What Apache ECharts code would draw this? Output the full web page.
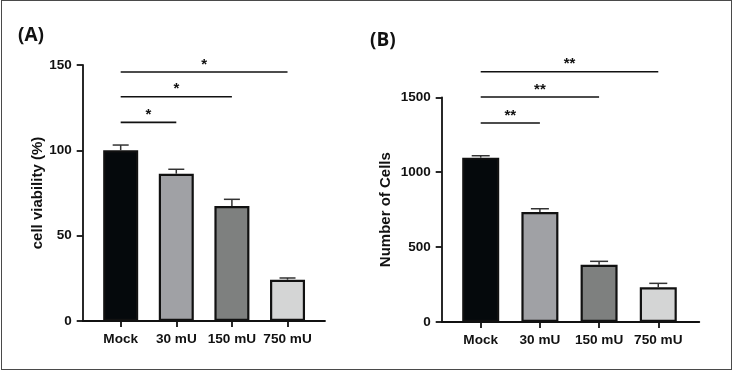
<!DOCTYPE html>
<html><head><meta charset="utf-8">
<script src="https://cdn.jsdelivr.net/npm/echarts@6/dist/echarts.min.js"></script>
<style>
html,body{margin:0;padding:0;background:#fff;}
#frame{position:absolute;left:1px;top:0;width:731px;height:370px;box-sizing:border-box;border:1px solid #4a4a4a;}
#chart{position:absolute;left:0;top:0;width:733px;height:374px;}
</style></head><body>
<div id="frame"></div><div id="chart"></div>
<script>
// ---- data ----
const categories = ['Mock', '30 mU', '150 mU', '750 mU'];
const viability = [100, 86.3, 67.4, 24.2];
const viabilitySEM = [3.1, 2.6, 3.9, 1.0];
const cellCount = [1097, 734, 382, 232];
const cellCountSEM = [13, 22, 23, 26];
const sigPairs = [[0, 1], [0, 2], [0, 3]];
const sigHeightsA = [116.4, 131.4, 145.9];
const sigLabelsA = ['*', '*', '*'];
const sigHeightsB = [1328, 1502, 1671];
const sigLabelsB = ['**', '**', '**'];
const yTicksA = [0, 50, 100, 150];
const yTicksB = [0, 500, 1000, 1500];
const barColors = ['#05090c', '#a0a1a5', '#7e807f', '#d4d5d5'];

const FONT = 'Liberation Sans';
const INK = '#111111';

function xAxisCfg(grid, min, max) {
  const idx = categories.map((c, i) => i);
  return {
    type: 'value', gridIndex: grid, min: min, max: max,
    splitLine: {show: false},
    axisLine: {show: true, onZero: false, lineStyle: {color: INK, width: 1.8}},
    axisTick: {show: true, length: 6, customValues: idx, lineStyle: {color: INK, width: 1.8}},
    axisLabel: {customValues: idx, margin: 11, color: INK, fontFamily: FONT, fontWeight: 'bold', fontSize: 13.6,
      formatter: v => categories[Math.round(v)] || ''}
  };
}
function yAxisCfg(grid, ticks, name, nameGap) {
  return {
    type: 'value', gridIndex: grid, min: ticks[0], max: ticks[ticks.length - 1], interval: ticks[1] - ticks[0],
    splitLine: {show: false},
    axisLine: {show: true, onZero: false, lineStyle: {color: INK, width: 1.8}},
    axisTick: {show: true, length: 6, lineStyle: {color: INK, width: 1.8}},
    axisLabel: {margin: 11, color: INK, fontFamily: FONT, fontWeight: 'bold', fontSize: 13.5,
      formatter: v => String(v)},
    name: name, nameLocation: 'middle', nameGap: nameGap,
    nameTextStyle: {color: INK, fontFamily: FONT, fontWeight: 'bold', fontSize: 15}
  };
}
function panelSeries(grid, values, sem, heights, labels, barWidth, capHalf) {
  return [
    {
      type: 'bar', xAxisIndex: grid, yAxisIndex: grid, barWidth: barWidth,
      itemStyle: {borderColor: INK, borderWidth: 2.2},
      data: values.map((v, i) => ({value: [i, v], itemStyle: {color: barColors[i]}})),
      z: 2
    },
    {
      type: 'custom', xAxisIndex: grid, yAxisIndex: grid, z: 3,
      encode: {x: 0, y: [1, 2]},
      data: values.map((v, i) => [i, v, v + sem[i]]),
      renderItem: function (params, api) {
        const p0 = api.coord([api.value(0), api.value(1)]);
        const p1 = api.coord([api.value(0), api.value(2)]);
        return {type: 'group', children: [
          {type: 'line', shape: {x1: p0[0], y1: p0[1], x2: p1[0], y2: p1[1]}, style: {stroke: '#333', lineWidth: 1.5}},
          {type: 'line', shape: {x1: p1[0] - capHalf, y1: p1[1], x2: p1[0] + capHalf, y2: p1[1]}, style: {stroke: '#333', lineWidth: 1.5}}
        ]};
      }
    },
    {
      type: 'custom', xAxisIndex: grid, yAxisIndex: grid, z: 4, clip: false,
      encode: {x: [0, 2], y: 1},
      data: sigPairs.map((p, i) => [p[0], heights[i], p[1], i]),
      renderItem: function (params, api) {
        const a = api.coord([api.value(0), api.value(1)]);
        const b = api.coord([api.value(2), api.value(1)]);
        return {type: 'group', children: [
          {type: 'line', shape: {x1: a[0], y1: a[1], x2: b[0], y2: b[1]}, style: {stroke: INK, lineWidth: 1.6}},
          {type: 'text', x: (a[0] + b[0]) / 2, y: a[1] - 7.5,
            style: {text: labels[api.value(3)], align: 'center', verticalAlign: 'middle',
              font: 'bold 15px "Liberation Sans"', fill: INK}}
        ]};
      }
    }
  ];
}

const chart = echarts.init(document.getElementById('chart'), null, {renderer: 'canvas'});
chart.setOption({
  animation: false,
  backgroundColor: 'transparent',
  title: [
    {text: '(A)', left: 18, top: 26, padding: 0, textStyle: {fontFamily: 'Open Sans', fontWeight: 'bold', fontSize: 19, color: INK}},
    {text: '(B)', left: 370, top: 31, padding: 0, textStyle: {fontFamily: 'Open Sans', fontWeight: 'bold', fontSize: 19, color: INK}}
  ],
  grid: [
    {left: 82.7, top: 65, right: 408, bottom: 53},
    {left: 441.7, top: 97.3, right: 33.7, bottom: 52}
  ],
  xAxis: [xAxisCfg(0, -0.683, 3.674), xAxisCfg(1, -0.659, 3.693)],
  yAxis: [yAxisCfg(0, yTicksA, 'cell viability (%)', 36), yAxisCfg(1, yTicksB, 'Number of Cells', 48)],
  series: [].concat(
    panelSeries(0, viability, viabilitySEM, sigHeightsA, sigLabelsA, 35, 8),
    panelSeries(1, cellCount, cellCountSEM, sigHeightsB, sigLabelsB, 37, 9)
  )
});
</script>
</body></html>
